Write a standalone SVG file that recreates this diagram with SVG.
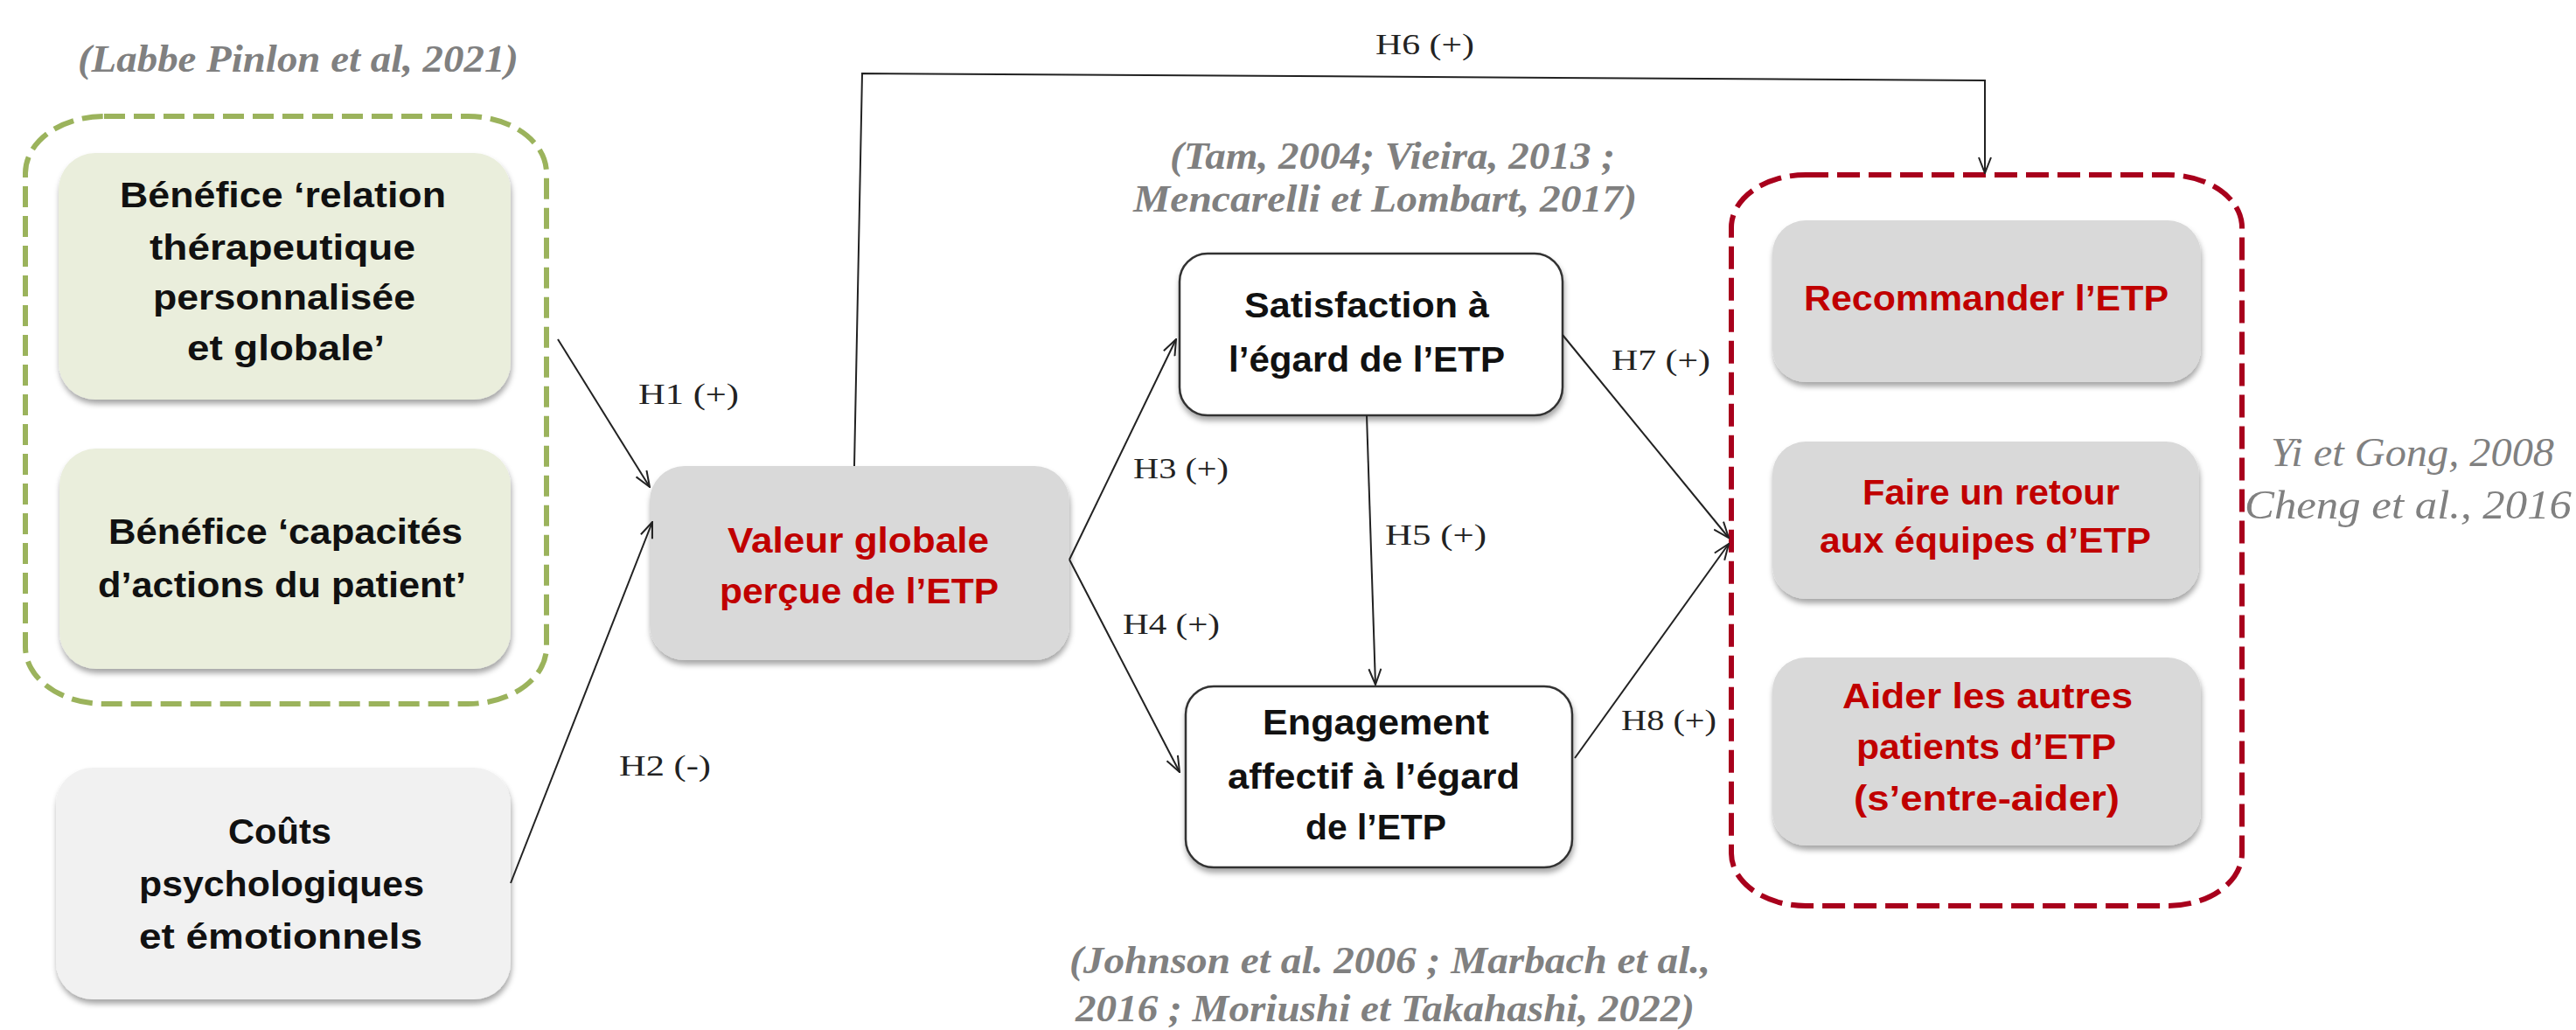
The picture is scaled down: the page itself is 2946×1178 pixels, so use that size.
<svg xmlns="http://www.w3.org/2000/svg" width="2946" height="1178" viewBox="0 0 2946 1178">
<defs>
<style>
.bt{font-family:"Liberation Sans",Arial,sans-serif;font-weight:bold;font-size:40px;fill:#111}
.rt{font-family:"Liberation Sans",Arial,sans-serif;font-weight:bold;font-size:40px;fill:#c00000}
.h{font-family:"Liberation Serif","Times New Roman",serif;font-size:34px;fill:#222}
.cite{font-family:"Liberation Serif","Times New Roman",serif;font-style:italic;font-weight:bold;font-size:44px;fill:#808080}
.cite2{font-family:"Liberation Serif","Times New Roman",serif;font-style:italic;font-size:46px;fill:#808080}
.conn{stroke:#222;stroke-width:2;fill:none;marker-end:url(#arr)}
.shadow{filter:url(#sh)}
.grey{fill:#d9d9d9}
.outl{fill:#ffffff;stroke:#333;stroke-width:2.5}
</style>
<marker id="arr" viewBox="0 0 20 16" refX="19" refY="8" markerWidth="20" markerHeight="16" markerUnits="userSpaceOnUse" orient="auto">
<path d="M1,1 L19,8 L1,15" fill="none" stroke="#222" stroke-width="2"/>
</marker>
<filter id="sh" x="-10%" y="-10%" width="120%" height="130%">
<feDropShadow dx="1" dy="5" stdDeviation="3" flood-color="#000" flood-opacity="0.35"/>
</filter>
</defs>
<rect width="2946" height="1178" fill="#ffffff"/>

<g id="citations">
<text class="cite" x="89" y="82" textLength="504" lengthAdjust="spacingAndGlyphs">(Labbe Pinlon et al, 2021)</text>
<text class="cite" x="1338" y="193" textLength="509" lengthAdjust="spacingAndGlyphs">(Tam, 2004; Vieira, 2013 ;</text>
<text class="cite" x="1296" y="242" textLength="576" lengthAdjust="spacingAndGlyphs">Mencarelli et Lombart, 2017)</text>
<text class="cite" x="1223" y="1113" textLength="733" lengthAdjust="spacingAndGlyphs">(Johnson et al. 2006 ; Marbach et al.,</text>
<text class="cite" x="1230" y="1168" textLength="708" lengthAdjust="spacingAndGlyphs">2016 ; Moriushi et Takahashi, 2022)</text>
<text class="cite2" x="2597" y="533" textLength="324" lengthAdjust="spacingAndGlyphs">Yi et Gong, 2008</text>
<text class="cite2" x="2567" y="593" textLength="374" lengthAdjust="spacingAndGlyphs">Cheng et al., 2016</text>
</g>

<g id="group-benefices">
<rect x="29" y="133" width="596" height="672" rx="90" ry="65" fill="none" stroke="#9bb35c" stroke-width="6" stroke-dasharray="24 10"/>
</g>

<g id="node-benefice-relation">
<rect class="shadow" x="67" y="175" width="517" height="282" rx="42" fill="#eaeedc"/>
<text class="bt" x="137" y="237" textLength="373" lengthAdjust="spacingAndGlyphs">Bénéfice ‘relation</text>
<text class="bt" x="171" y="297" textLength="304" lengthAdjust="spacingAndGlyphs">thérapeutique</text>
<text class="bt" x="175" y="354" textLength="300" lengthAdjust="spacingAndGlyphs">personnalisée</text>
<text class="bt" x="214" y="412" textLength="226" lengthAdjust="spacingAndGlyphs">et globale’</text>
</g>

<g id="node-benefice-capacites">
<rect class="shadow" x="68" y="513" width="516" height="252" rx="42" fill="#eaeedc"/>
<text class="bt" x="124" y="622" textLength="405" lengthAdjust="spacingAndGlyphs">Bénéfice ‘capacités</text>
<text class="bt" x="112" y="683" textLength="421" lengthAdjust="spacingAndGlyphs">d’actions du patient’</text>
</g>

<g id="node-couts">
<rect class="shadow" x="64" y="878" width="520" height="265" rx="42" fill="#f1f1f1"/>
<text class="bt" x="261" y="965" textLength="118" lengthAdjust="spacingAndGlyphs">Coûts</text>
<text class="bt" x="159" y="1025" textLength="326" lengthAdjust="spacingAndGlyphs">psychologiques</text>
<text class="bt" x="159" y="1085" textLength="324" lengthAdjust="spacingAndGlyphs">et émotionnels</text>
</g>

<g id="node-valeur">
<rect class="shadow grey" x="743" y="533" width="480" height="222" rx="40"/>
<text class="rt" x="832" y="632" textLength="299" lengthAdjust="spacingAndGlyphs">Valeur globale</text>
<text class="rt" x="823" y="690" textLength="319" lengthAdjust="spacingAndGlyphs">perçue de l’ETP</text>
</g>

<g id="node-satisfaction">
<rect class="shadow outl" x="1349" y="290" width="438" height="185" rx="32"/>
<text class="bt" x="1423" y="363" textLength="280" lengthAdjust="spacingAndGlyphs">Satisfaction à</text>
<text class="bt" x="1405" y="425" textLength="316" lengthAdjust="spacingAndGlyphs">l’égard de l’ETP</text>
</g>

<g id="node-engagement">
<rect class="shadow outl" x="1356" y="785" width="442" height="207" rx="32"/>
<text class="bt" x="1444" y="840" textLength="259" lengthAdjust="spacingAndGlyphs">Engagement</text>
<text class="bt" x="1404" y="902" textLength="334" lengthAdjust="spacingAndGlyphs">affectif à l’égard</text>
<text class="bt" x="1493" y="960" textLength="161" lengthAdjust="spacingAndGlyphs">de l’ETP</text>
</g>

<g id="group-comportements">
<rect x="1980" y="200" width="584" height="836" rx="85" ry="60" fill="none" stroke="#a8001c" stroke-width="6" stroke-dasharray="26 10"/>
</g>

<g id="node-recommander">
<rect class="shadow grey" x="2027" y="252" width="490" height="185" rx="38"/>
<text class="rt" x="2063" y="355" textLength="417" lengthAdjust="spacingAndGlyphs">Recommander l’ETP</text>
</g>

<g id="node-retour">
<rect class="shadow grey" x="2027" y="505" width="488" height="180" rx="38"/>
<text class="rt" x="2130" y="577" textLength="294" lengthAdjust="spacingAndGlyphs">Faire un retour</text>
<text class="rt" x="2081" y="632" textLength="379" lengthAdjust="spacingAndGlyphs">aux équipes d’ETP</text>
</g>

<g id="node-aider">
<rect class="shadow grey" x="2027" y="752" width="490" height="215" rx="38"/>
<text class="rt" x="2107" y="810" textLength="332" lengthAdjust="spacingAndGlyphs">Aider les autres</text>
<text class="rt" x="2123" y="868" textLength="297" lengthAdjust="spacingAndGlyphs">patients d’ETP</text>
<text class="rt" x="2120" y="927" textLength="304" lengthAdjust="spacingAndGlyphs">(s’entre-aider)</text>
</g>

<g id="connectors">
<line class="conn" x1="638" y1="388" x2="743" y2="557"/>
<line class="conn" x1="584" y1="1010" x2="746" y2="597"/>
<polyline class="conn" points="977,533 986,84 2270,92 2270,198"/>
<line class="conn" x1="1223" y1="640" x2="1345" y2="388"/>
<line class="conn" x1="1223" y1="640" x2="1349" y2="883"/>
<line class="conn" x1="1563" y1="475" x2="1573" y2="783"/>
<line class="conn" x1="1787" y1="383" x2="1977" y2="615"/>
<line class="conn" x1="1801" y1="867" x2="1977" y2="622"/>
<text class="h" x="730" y="462" textLength="115" lengthAdjust="spacingAndGlyphs">H1 (+)</text>
<text class="h" x="708" y="887" textLength="105" lengthAdjust="spacingAndGlyphs">H2 (-)</text>
<text class="h" x="1296" y="547" textLength="109" lengthAdjust="spacingAndGlyphs">H3 (+)</text>
<text class="h" x="1284" y="725" textLength="111" lengthAdjust="spacingAndGlyphs">H4 (+)</text>
<text class="h" x="1584" y="623" textLength="116" lengthAdjust="spacingAndGlyphs">H5 (+)</text>
<text class="h" x="1573" y="62" textLength="113" lengthAdjust="spacingAndGlyphs">H6 (+)</text>
<text class="h" x="1843" y="423" textLength="113" lengthAdjust="spacingAndGlyphs">H7 (+)</text>
<text class="h" x="1854" y="835" textLength="109" lengthAdjust="spacingAndGlyphs">H8 (+)</text>
</g>
</svg>
